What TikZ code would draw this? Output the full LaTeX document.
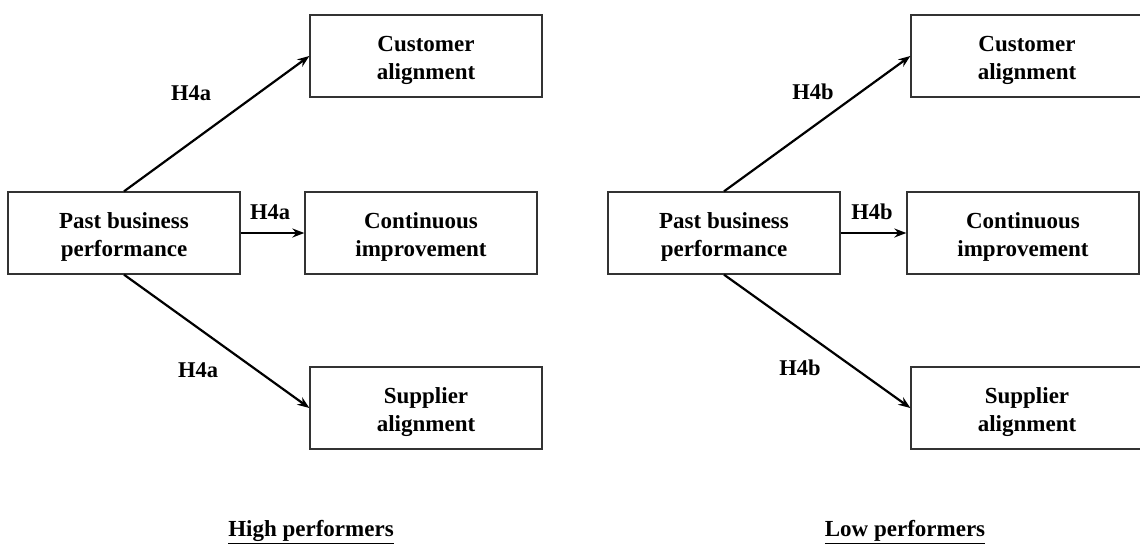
\documentclass[tikz,border=0pt]{standalone}
\usepackage{fontspec}
\setmainfont{Liberation Serif}
\usetikzlibrary{arrows.meta}
\newcommand{\tallstrut}{\rule{0pt}{24pt}}
\tikzset{
  box/.style={draw=black!80, line width=1.3pt, minimum width=232pt, minimum height=82pt,
    inner sep=0pt, align=center, font=\fontsize{23}{28}\selectfont\bfseries},
  arr/.style={line width=2.2pt, -{Stealth[length=12pt,width=9pt]}},
  lab/.style={font=\fontsize{22.5}{26}\selectfont\bfseries, inner sep=0pt},
  ttl/.style={font=\fontsize{23}{26}\selectfont\bfseries, inner sep=0pt}
}
\begin{document}
\begin{tikzpicture}[x=1pt,y=-1pt]
\useasboundingbox (0,0) rectangle (1140,551);
\fill[white] (0,0) rectangle (1140,551);
\clip (0,0) rectangle (1140,551);
% left group
\node[box] (pastL) at (124,233) {\tallstrut Past business\\performance};
\node[box] (custL) at (426,56) {\tallstrut Customer\\alignment};
\node[box] (contL) at (421,233) {\tallstrut Continuous\\improvement};
\node[box] (suppL) at (426,408) {\tallstrut Supplier\\alignment};
\draw[arr] (pastL.north) -- (custL.west);
\draw[arr] (pastL.east) -- (contL.west);
\draw[arr] (pastL.south) -- (suppL.west);
\node[lab] (l1) at (191,93) {H4a};
\node[lab] (l2) at (270,212) {H4a};
\node[lab] (l3) at (198,370) {H4a};
\node[ttl] (tL) at (311,532) {\underline{High performers}};
% right group
\node[box] (pastR) at (724,233) {\tallstrut Past business\\performance};
\node[box] (custR) at (1027,56) {\tallstrut Customer\\alignment};
\node[box] (contR) at (1023,233) {\tallstrut Continuous\\improvement};
\node[box] (suppR) at (1027,408) {\tallstrut Supplier\\alignment};
\draw[arr] (pastR.north) -- (custR.west);
\draw[arr] (pastR.east) -- (contR.west);
\draw[arr] (pastR.south) -- (suppR.west);
\node[lab] (r1) at (813,92) {H4b};
\node[lab] (r2) at (872,212) {H4b};
\node[lab] (r3) at (800,368) {H4b};
\node[ttl] (tR) at (905,532) {\underline{Low performers}};
\end{tikzpicture}
\end{document}
